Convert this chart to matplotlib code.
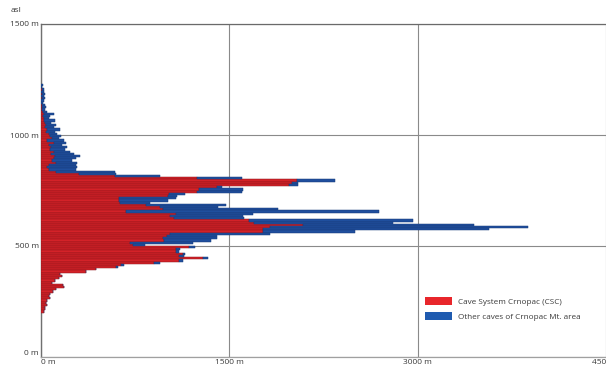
import numpy as np
import matplotlib
matplotlib.use("Agg")
import matplotlib.pyplot as plt
from matplotlib.patches import Patch

plt.rcParams['font.family'] = ['Open Sans', 'DejaVu Sans']

# altitude bins (m asl, bin centres, 10 m bins), top to bottom
altitude = np.arange(1225, 200, -10)

# cave length in each altitude bin (m) - Cave System Crnopac (CSC)
csc = [0, 0, 5, 0, 5, 0, 5, 0, 0, 10,
       10, 5, 15, 20, 15, 20, 20, 30, 40, 30,
       50, 40, 60, 70, 90, 50, 100, 60, 80, 70,
       100, 80, 110, 100, 90, 120, 60, 50, 60, 120,
       300, 590, 1240, 2040, 2000, 1975, 1400, 1260, 1240, 1020,
       1010, 620, 620, 630, 835, 950, 970, 680, 1075, 1030,
       1060, 1660, 1700, 2090, 1820, 1770, 1770, 1030, 1000, 970,
       980, 710, 730, 1180, 1075, 1075, 1130, 1100, 1290, 1100,
       900, 640, 600, 440, 360, 150, 170, 140, 110, 90,
       175, 185, 120, 95, 70, 60, 70, 45, 40, 45,
       30, 35, 25]

# cave length in each altitude bin (m) - other caves of Crnopac Mt. area
other = [15, 10, 20, 20, 25, 25, 30, 20, 15, 20,
         30, 30, 35, 80, 55, 40, 90, 50, 80, 70,
         100, 70, 70, 90, 50, 130, 100, 110, 130, 120,
         130, 180, 200, 180, 160, 170, 220, 240, 220, 470,
         300, 360, 360, 300, 50, 75, 40, 350, 360, 130,
         70, 455, 390, 240, 635, 460, 920, 2010, 615, 580,
         560, 1300, 1100, 1360, 2060, 1800, 730, 790, 400, 430,
         370, 500, 100, 50, 35, 25, 20, 40, 40, 30,
         50, 20, 10, 0, 0, 0, 0, 0, 0, 0,
         0, 0, 0, 0, 0, 0, 0, 0, 0, 0,
         0, 0, 0]

x_ticks = [0, 1500, 3000, 4500]
x_labels = ["0 m", "1500 m", "3000 m", "4500 m"]
y_ticks = [0, 500, 1000, 1500]
y_labels = ["0 m", "500 m", "1000 m", "1500 m"]
legend_labels = ["Cave System Crnopac (CSC)", "Other caves of Crnopac Mt. area"]

red = "#d42228"
red_edge = "#8e1419"
blue = "#1f4f9e"
blue_edge = "#173a78"
text_col = "#3a3a3a"
grid_col = "#8a8a8a"

fig = plt.figure(figsize=(6.06, 3.69), dpi=100)
ax = fig.add_axes([41 / 606, 1 - 357 / 369, 1 - 41 / 606, (357 - 24) / 369])

ax.barh(altitude, csc, height=10, color=red, edgecolor=red_edge, linewidth=0.35, zorder=3)
ax.barh(altitude, other, left=csc, height=10, color=blue, edgecolor=blue_edge,
        linewidth=0.35, zorder=3)

ax.set_xlim(0, 4500)
ax.set_ylim(0, 1500)
ax.set_xticks(x_ticks)
ax.set_xticklabels(x_labels)
ax.set_yticks(y_ticks)
ax.set_yticklabels(y_labels)
ax.tick_params(axis='both', length=0, labelsize=6, colors=text_col, pad=1.5)
xl = ax.get_xticklabels()
xl[0].set_horizontalalignment('left')
yl = ax.get_yticklabels()
yl[0].set_verticalalignment('bottom')

ax.grid(True, color=grid_col, linewidth=0.8, zorder=1)
ax.spines['right'].set_visible(False)
ax.spines['top'].set_color('#6a6a6a')
ax.spines['top'].set_linewidth(0.9)
ax.spines['bottom'].set_color('#a0a0a0')
ax.spines['bottom'].set_linewidth(0.9)
ax.spines['left'].set_color('#707070')
ax.spines['left'].set_linewidth(1.0)

fig.text(11 / 606, 1 - 11 / 369, "asl", fontsize=6, color=text_col, va='center', ha='left')

handles = [Patch(facecolor="#e8262b", edgecolor="none"),
           Patch(facecolor="#1f5bb0", edgecolor="none")]
fig.legend(handles, legend_labels, loc='upper left',
           bbox_to_anchor=(418 / 606, 1 - 290 / 369), frameon=False,
           fontsize=5.9, handlelength=3.2, handleheight=1.1, labelspacing=0.75,
           handletextpad=0.8, labelcolor=text_col)

fig.savefig("out.png", dpi=100)
